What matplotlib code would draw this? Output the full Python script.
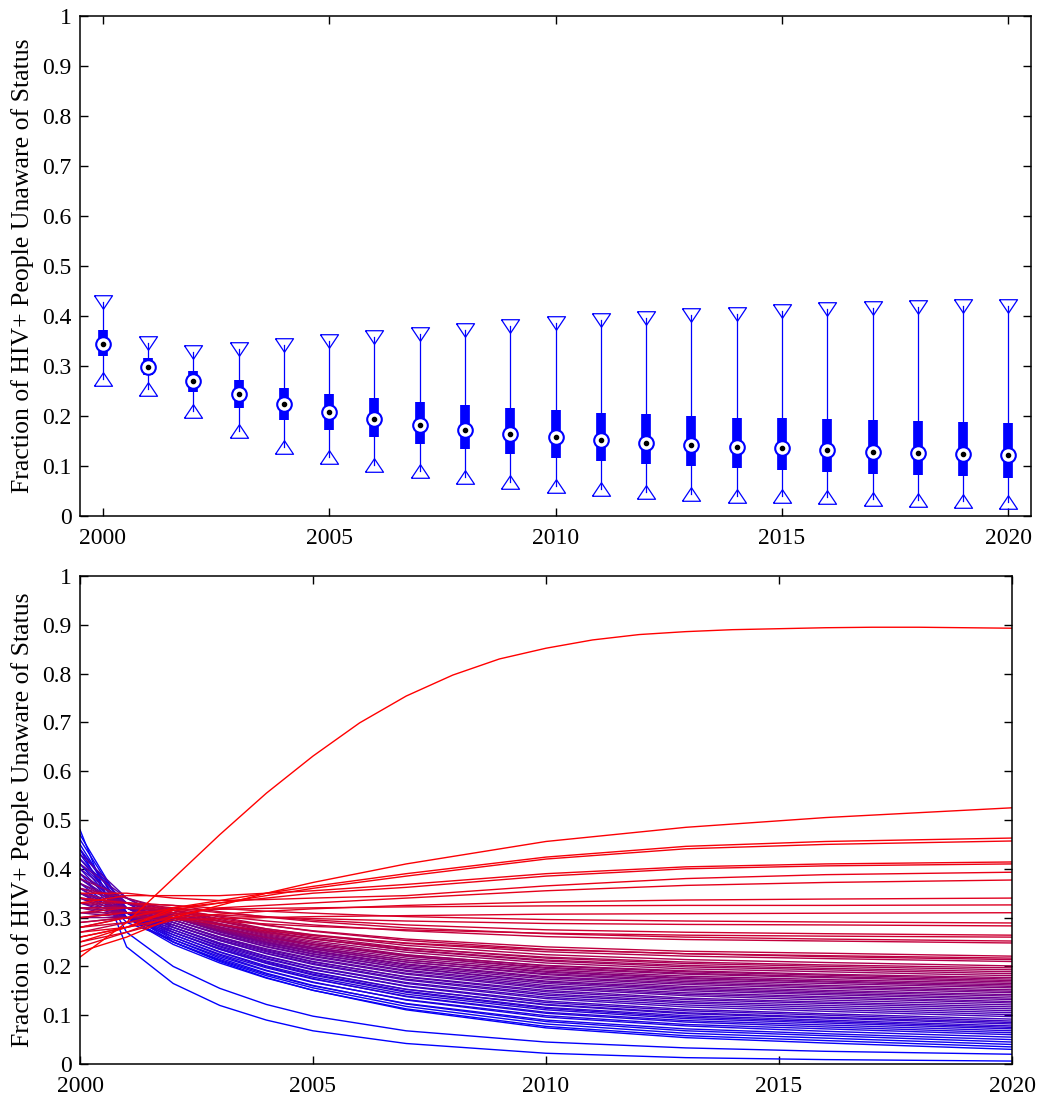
import matplotlib
matplotlib.use("Agg")
import matplotlib.pyplot as plt
import numpy as np
from matplotlib.ticker import FormatStrFormatter

plt.rcParams['font.family'] = ['Liberation Serif', 'DejaVu Serif']
plt.rcParams['font.size'] = 17

# ---- top panel: yearly distribution summary ----
box_years = list(range(2000, 2021))
whisker_hi = [0.428, 0.346, 0.328, 0.334, 0.342, 0.350, 0.358, 0.365, 0.373, 0.380, 0.387,
              0.392, 0.397, 0.402, 0.405, 0.410, 0.414, 0.416, 0.418, 0.420, 0.421]
q3 = [0.372, 0.316, 0.290, 0.272, 0.256, 0.245, 0.236, 0.228, 0.222, 0.216, 0.212,
      0.207, 0.204, 0.201, 0.197, 0.196, 0.194, 0.192, 0.190, 0.188, 0.186]
medians = [0.344, 0.298, 0.270, 0.244, 0.224, 0.208, 0.195, 0.183, 0.173, 0.165, 0.158,
           0.152, 0.147, 0.143, 0.139, 0.136, 0.132, 0.128, 0.126, 0.124, 0.122]
q1 = [0.320, 0.282, 0.248, 0.216, 0.193, 0.172, 0.158, 0.145, 0.135, 0.125, 0.117,
      0.110, 0.105, 0.100, 0.096, 0.092, 0.088, 0.084, 0.082, 0.080, 0.076]
whisker_lo = [0.274, 0.254, 0.210, 0.170, 0.138, 0.118, 0.102, 0.090, 0.078, 0.068, 0.060,
              0.054, 0.049, 0.045, 0.041, 0.040, 0.038, 0.034, 0.032, 0.030, 0.028]

# ---- bottom panel: individual runs ----
run_years = [2000, 2001, 2002, 2003, 2004, 2005, 2007, 2010, 2013, 2016, 2020]
runs_low = [
    [0.48, 0.24, 0.165, 0.120, 0.090, 0.068, 0.042, 0.022, 0.013, 0.009, 0.006],
    [0.44, 0.27, 0.200, 0.155, 0.122, 0.098, 0.068, 0.045, 0.033, 0.026, 0.020],
    [0.47, 0.31, 0.250, 0.210, 0.177, 0.151, 0.111, 0.074, 0.054, 0.043, 0.030],
    [0.45, 0.30, 0.245, 0.207, 0.176, 0.151, 0.113, 0.077, 0.058, 0.048, 0.035],
    [0.43, 0.30, 0.250, 0.212, 0.181, 0.156, 0.118, 0.082, 0.063, 0.053, 0.040],
    [0.46, 0.31, 0.255, 0.217, 0.186, 0.161, 0.123, 0.087, 0.068, 0.058, 0.045],
    [0.41, 0.30, 0.250, 0.214, 0.184, 0.160, 0.124, 0.090, 0.072, 0.062, 0.050],
    [0.44, 0.31, 0.260, 0.223, 0.192, 0.168, 0.131, 0.096, 0.078, 0.067, 0.055],
    [0.39, 0.29, 0.255, 0.220, 0.191, 0.167, 0.132, 0.099, 0.081, 0.072, 0.060],
    [0.42, 0.31, 0.265, 0.229, 0.199, 0.175, 0.138, 0.104, 0.086, 0.076, 0.064],
]
runs_midlow = [
    [0.40, 0.30, 0.260, 0.225, 0.197, 0.174, 0.139, 0.106, 0.089, 0.080, 0.068],
    [0.37, 0.30, 0.265, 0.230, 0.201, 0.178, 0.143, 0.111, 0.093, 0.084, 0.072],
    [0.44, 0.32, 0.270, 0.235, 0.206, 0.182, 0.147, 0.114, 0.096, 0.087, 0.075],
    [0.38, 0.31, 0.270, 0.235, 0.207, 0.184, 0.149, 0.116, 0.099, 0.090, 0.078],
    [0.41, 0.32, 0.275, 0.240, 0.211, 0.188, 0.153, 0.121, 0.103, 0.094, 0.082],
    [0.36, 0.30, 0.270, 0.237, 0.209, 0.187, 0.153, 0.122, 0.105, 0.096, 0.085],
    [0.42, 0.33, 0.280, 0.245, 0.217, 0.194, 0.159, 0.126, 0.109, 0.100, 0.088],
    [0.35, 0.30, 0.275, 0.242, 0.215, 0.193, 0.160, 0.129, 0.112, 0.103, 0.092],
    [0.39, 0.32, 0.280, 0.247, 0.220, 0.198, 0.165, 0.134, 0.117, 0.108, 0.097],
    [0.34, 0.30, 0.280, 0.248, 0.221, 0.199, 0.167, 0.137, 0.121, 0.112, 0.101],
    [0.40, 0.33, 0.285, 0.253, 0.226, 0.204, 0.172, 0.141, 0.125, 0.116, 0.105],
    [0.36, 0.31, 0.285, 0.253, 0.227, 0.206, 0.174, 0.144, 0.128, 0.120, 0.109],
    [0.43, 0.34, 0.290, 0.258, 0.232, 0.210, 0.178, 0.148, 0.132, 0.124, 0.113],
    [0.33, 0.30, 0.285, 0.255, 0.230, 0.209, 0.179, 0.151, 0.135, 0.127, 0.117],
    [0.38, 0.32, 0.290, 0.260, 0.234, 0.214, 0.184, 0.155, 0.140, 0.131, 0.121],
    [0.35, 0.31, 0.290, 0.260, 0.236, 0.216, 0.186, 0.158, 0.143, 0.135, 0.125],
]
runs_midhigh = [
    [0.41, 0.34, 0.295, 0.265, 0.240, 0.220, 0.190, 0.161, 0.146, 0.138, 0.128],
    [0.34, 0.31, 0.295, 0.266, 0.241, 0.222, 0.192, 0.165, 0.150, 0.142, 0.132],
    [0.37, 0.32, 0.300, 0.270, 0.246, 0.226, 0.196, 0.168, 0.153, 0.145, 0.135],
    [0.32, 0.30, 0.295, 0.267, 0.244, 0.225, 0.197, 0.170, 0.156, 0.148, 0.139],
    [0.39, 0.33, 0.300, 0.272, 0.248, 0.229, 0.200, 0.174, 0.159, 0.151, 0.142],
    [0.35, 0.32, 0.300, 0.272, 0.249, 0.231, 0.203, 0.177, 0.163, 0.155, 0.146],
    [0.31, 0.30, 0.300, 0.273, 0.250, 0.232, 0.205, 0.179, 0.166, 0.158, 0.149],
    [0.37, 0.33, 0.305, 0.277, 0.255, 0.236, 0.209, 0.183, 0.169, 0.161, 0.152],
    [0.33, 0.31, 0.300, 0.274, 0.252, 0.235, 0.209, 0.185, 0.172, 0.165, 0.156],
    [0.36, 0.33, 0.305, 0.279, 0.257, 0.239, 0.213, 0.188, 0.175, 0.168, 0.159],
    [0.30, 0.30, 0.300, 0.275, 0.254, 0.238, 0.213, 0.190, 0.177, 0.170, 0.162],
    [0.34, 0.32, 0.305, 0.280, 0.259, 0.242, 0.217, 0.193, 0.180, 0.173, 0.165],
    [0.38, 0.34, 0.310, 0.284, 0.263, 0.246, 0.221, 0.196, 0.184, 0.177, 0.168],
    [0.32, 0.31, 0.305, 0.281, 0.261, 0.245, 0.221, 0.198, 0.186, 0.179, 0.171],
    [0.35, 0.33, 0.310, 0.286, 0.265, 0.249, 0.224, 0.201, 0.189, 0.182, 0.174],
    [0.29, 0.30, 0.300, 0.278, 0.259, 0.245, 0.223, 0.202, 0.191, 0.184, 0.177],
    [0.33, 0.32, 0.310, 0.287, 0.267, 0.252, 0.229, 0.207, 0.195, 0.189, 0.181],
    [0.36, 0.34, 0.315, 0.292, 0.272, 0.257, 0.233, 0.211, 0.199, 0.193, 0.185],
    [0.31, 0.31, 0.310, 0.288, 0.270, 0.256, 0.234, 0.213, 0.202, 0.196, 0.189],
    [0.34, 0.33, 0.315, 0.293, 0.275, 0.260, 0.238, 0.217, 0.206, 0.200, 0.193],
    [0.28, 0.30, 0.305, 0.286, 0.269, 0.256, 0.237, 0.219, 0.209, 0.203, 0.197],
    [0.32, 0.32, 0.315, 0.296, 0.277, 0.264, 0.243, 0.224, 0.214, 0.208, 0.201],
]
runs_high = [
    [0.30, 0.31, 0.310, 0.292, 0.277, 0.265, 0.247, 0.230, 0.221, 0.216, 0.210],
    [0.34, 0.33, 0.320, 0.301, 0.285, 0.272, 0.253, 0.235, 0.226, 0.220, 0.214],
    [0.27, 0.29, 0.300, 0.285, 0.273, 0.263, 0.248, 0.234, 0.226, 0.222, 0.217],
    [0.32, 0.32, 0.315, 0.298, 0.284, 0.273, 0.256, 0.240, 0.231, 0.227, 0.221],
    [0.29, 0.30, 0.315, 0.303, 0.293, 0.285, 0.273, 0.261, 0.255, 0.252, 0.248],
    [0.33, 0.33, 0.325, 0.312, 0.301, 0.292, 0.279, 0.267, 0.260, 0.256, 0.252],
    [0.26, 0.28, 0.300, 0.293, 0.287, 0.282, 0.275, 0.268, 0.264, 0.262, 0.260],
    [0.31, 0.32, 0.320, 0.310, 0.302, 0.295, 0.285, 0.275, 0.270, 0.267, 0.264],
    [0.28, 0.29, 0.310, 0.305, 0.301, 0.298, 0.293, 0.288, 0.286, 0.285, 0.283],
    [0.34, 0.33, 0.325, 0.319, 0.313, 0.309, 0.302, 0.296, 0.293, 0.291, 0.289],
    [0.25, 0.27, 0.295, 0.298, 0.300, 0.302, 0.304, 0.307, 0.308, 0.309, 0.310],
    [0.30, 0.31, 0.315, 0.317, 0.319, 0.320, 0.322, 0.324, 0.325, 0.325, 0.326],
    [0.27, 0.28, 0.300, 0.307, 0.313, 0.318, 0.325, 0.332, 0.336, 0.338, 0.340],
    [0.24, 0.27, 0.305, 0.320, 0.325, 0.330, 0.340, 0.355, 0.366, 0.372, 0.377],
    [0.35, 0.35, 0.340, 0.335, 0.337, 0.340, 0.345, 0.365, 0.380, 0.388, 0.393],
    [0.28, 0.30, 0.320, 0.330, 0.340, 0.350, 0.362, 0.385, 0.400, 0.406, 0.410],
    [0.33, 0.345, 0.345, 0.345, 0.350, 0.355, 0.368, 0.390, 0.404, 0.410, 0.414],
    [0.25, 0.28, 0.315, 0.330, 0.345, 0.360, 0.385, 0.420, 0.441, 0.450, 0.457],
    [0.26, 0.28, 0.320, 0.335, 0.350, 0.364, 0.390, 0.424, 0.446, 0.456, 0.463],
    [0.23, 0.26, 0.300, 0.325, 0.350, 0.372, 0.410, 0.456, 0.485, 0.505, 0.525],
]
outlier_years = list(range(2000, 2021))
outlier_run = [0.219, 0.29, 0.38, 0.47, 0.555, 0.631, 0.699, 0.754, 0.797, 0.830, 0.852,
               0.869, 0.880, 0.886, 0.890, 0.892, 0.894, 0.895, 0.895, 0.894, 0.893]

ylab = "Fraction of HIV+ People Unaware of Status"
W, H = 1039, 1099
fig = plt.figure(figsize=(W / 100, H / 100), dpi=100)

def style_axes(ax):
    ax.tick_params(direction="in", top=True, right=True, length=6, width=1, pad=6)
    ax.tick_params(axis="x", pad=9)
    for s in ax.spines.values():
        s.set_linewidth(1.1)
    ax.set_ylim(0, 1)
    ax.set_yticks(np.arange(0, 1.01, 0.1))
    ax.yaxis.set_major_formatter(FormatStrFormatter("%g"))
    ax.set_xticks([2000, 2005, 2010, 2015, 2020])
    ax.set_ylabel(ylab, fontsize=18.5, labelpad=6)

# top panel
ax1 = fig.add_axes([80 / W, 1 - 516 / H, 951 / W, 500 / H])
blue = (0, 0, 1)
tri_down = [(-1, 0.75), (1, 0.75), (0, -0.75), (-1, 0.75)]
tri_up = [(-1, -0.75), (1, -0.75), (0, 0.75), (-1, -0.75)]
for i, yr in enumerate(box_years):
    ax1.plot([yr, yr], [whisker_lo[i], whisker_hi[i]], color=blue, lw=0.9, zorder=2)
    ax1.plot([yr, yr], [q1[i], q3[i]], color=blue, lw=7, solid_capstyle="butt", zorder=3)
ax1.plot(box_years, whisker_hi, ls="none", marker=tri_down, ms=13, mfc="none",
         mec=blue, mew=0.9, zorder=4)
ax1.plot(box_years, whisker_lo, ls="none", marker=tri_up, ms=13, mfc="none",
         mec=blue, mew=0.9, zorder=4)
ax1.plot(box_years, medians, ls="none", marker="o", ms=10.5, mfc="white", mec=blue,
         mew=1.5, zorder=5)
ax1.plot(box_years, medians, ls="none", marker="o", ms=3, mfc="black", mec="black",
         zorder=6)
ax1.set_xlim(1999.5, 2020.5)
style_axes(ax1)

# bottom panel
ax2 = fig.add_axes([80 / W, 1 - 1064 / H, 932 / W, 488 / H])
all_runs = [(run_years, r) for r in runs_low + runs_midlow + runs_midhigh + runs_high]
all_runs.append((outlier_years, outlier_run))
all_runs.sort(key=lambda p: p[1][-1])
n = len(all_runs)
for k, (xs, ys) in enumerate(all_runs):
    t = k / (n - 1)
    ax2.plot(xs, ys, color=(t, 0, 1 - t), lw=1.0)
ax2.set_xlim(2000, 2020)
style_axes(ax2)

fig.savefig("out.png", dpi=100)
